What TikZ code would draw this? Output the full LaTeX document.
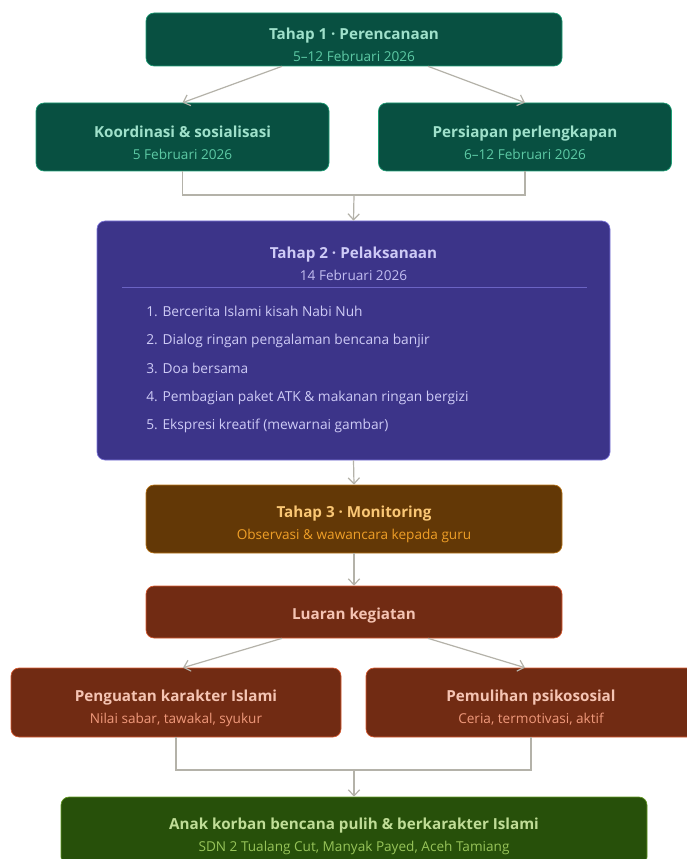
\documentclass[tikz,border=0pt]{standalone}
\usepackage{fontspec}
\setmainfont{Open Sans}
\usetikzlibrary{positioning}
\usetikzlibrary{arrows.meta,calc}

\definecolor{tealbg}{HTML}{085041}
\definecolor{tealln}{HTML}{1D9E75}
\definecolor{tealtt}{HTML}{9FE1CB}
\definecolor{tealsb}{HTML}{5DCAA5}
\definecolor{purpbg}{HTML}{3C3489}
\definecolor{purpln}{HTML}{7F77DD}
\definecolor{purptt}{HTML}{CECBF6}
\definecolor{purpsb}{HTML}{C2BDF0}
\definecolor{ambrbg}{HTML}{633806}
\definecolor{ambrln}{HTML}{BA7517}
\definecolor{ambrtt}{HTML}{FAC775}
\definecolor{ambrsb}{HTML}{EF9F27}
\definecolor{corlbg}{HTML}{712B13}
\definecolor{corlln}{HTML}{D85A30}
\definecolor{corltt}{HTML}{F5C4B3}
\definecolor{corlsb}{HTML}{F0997B}
\definecolor{grnbg}{HTML}{27500A}
\definecolor{grnln}{HTML}{639922}
\definecolor{grntt}{HTML}{C0DD97}
\definecolor{grnsb}{HTML}{97C459}
\definecolor{linegray}{HTML}{B4B2A9}

\newcommand{\judul}[4]{{\rule{0pt}{17pt}\fontsize{11.4}{14}\selectfont\bfseries\color{#1}#2}\\[4.5pt]{\fontsize{10.2}{12}\selectfont\color{#3}#4}}

\tikzset{
 box/.style={rectangle, rounded corners=6pt, inner sep=0pt, align=center, line width=0.5pt},
 tealbox/.style={box, fill=tealbg, draw=tealln},
 purpbox/.style={box, fill=purpbg, draw=purpln},
 ambrbox/.style={box, fill=ambrbg, draw=ambrln},
 corlbox/.style={box, fill=corlbg, draw=corlln},
 grnbox/.style={box, fill=grnbg, draw=grnln},
 link/.style={draw=linegray, line width=0.9pt},
 arr/.style={link, -{Straight Barb[length=4.5pt,width=8.5pt]}},
 item/.style={anchor=base west, inner sep=0pt, text=purptt, font=\fontsize{10.3}{12}\selectfont},
}

\begin{document}
\begin{tikzpicture}[x=0.75pt,y=-0.75pt]
 \fill[white] (0,0) rectangle (686,859);
 \useasboundingbox (0,0) rectangle (686,859);

 \node[tealbox, minimum width=312pt, minimum height=39.75pt] (t1) at (354,39.5)
  {\judul{tealtt}{Tahap 1 · Perencanaan}{tealsb}{5–12 Februari 2026}};
 \node[tealbox, minimum width=219.75pt, minimum height=51pt] (koord) at (182.5,137)
  {\judul{tealtt}{Koordinasi \& sosialisasi}{tealsb}{5 Februari 2026}};
 \node[tealbox, minimum width=219.75pt, minimum height=51pt] (siap) at (525,137)
  {\judul{tealtt}{Persiapan perlengkapan}{tealsb}{6–12 Februari 2026}};

 \node[purpbox, minimum width=384.75pt, minimum height=179.25pt] (t2) at (353.5,340.5) {};
 \node[inner sep=0pt, text=purptt, font=\fontsize{11.4}{14}\selectfont\bfseries] (t2judul) at (353.5,255) {Tahap 2 · Pelaksanaan};
 \node[inner sep=0pt, text=purpsb, font=\fontsize{10.2}{12}\selectfont] (t2tgl) at (353.5,275) {14 Februari 2026};
 \draw[purpln!70!purpbg, line width=0.5pt] (122,287) -- (587,287);
 \foreach \teks [count=\i] in {Bercerita Islami kisah Nabi Nuh, Dialog ringan pengalaman bencana banjir, Doa bersama, Pembagian paket ATK \& makanan ringan bergizi, Ekspresi kreatif (mewarnai gambar)}
  \node[item] (it\i) at (146,{316.5+28.3*(\i-1)}) {\i. \teks};

 \node[ambrbox, minimum width=312pt, minimum height=51pt] (t3) at (354,519)
  {\judul{ambrtt}{Tahap 3 · Monitoring}{ambrsb}{Observasi \& wawancara kepada guru}};
 \node[corlbox, minimum width=312pt, minimum height=39pt, text=corltt, font=\fontsize{11.4}{14}\selectfont\bfseries] (luaran) at (354,612) {\rule{0pt}{14pt}Luaran kegiatan};
 \node[corlbox, minimum width=247.5pt, minimum height=51.75pt] (kuat) at (176,702.5)
  {\judul{corltt}{Penguatan karakter Islami}{corlsb}{Nilai sabar, tawakal, syukur}};
 \node[corlbox, minimum width=247.5pt, minimum height=51.75pt] (pulih) at (531,702.5)
  {\judul{corltt}{Pemulihan psikososial}{corlsb}{Ceria, termotivasi, aktif}};
 \node[grnbox, minimum width=439.5pt, minimum height=51pt] (hasil) at (354,831)
  {\judul{grntt}{Anak korban bencana pulih \& berkarakter Islami}{grnsb}{SDN 2 Tualang Cut, Manyak Payed, Aceh Tamiang}};

 \coordinate (j1) at (354,195);
 \coordinate (j2) at (354,770);
 \draw[arr] ($(t1.south)+(-72,0)$) -- (koord.north);
 \draw[arr] ($(t1.south)+(74,0)$) -- (siap.north);
 \draw[link] (koord.south) |- (j1) -| (siap.south);
 \draw[arr] (j1) -- (t2.north);
 \draw[arr] (t2.south) -- (t3.north);
 \draw[arr] (t3.south) -- (luaran.north);
 \draw[arr] ($(luaran.south)+(-72,0)$) -- ($(kuat.north)+(7,0)$);
 \draw[arr] ($(luaran.south)+(74,0)$) -- ($(pulih.north)+(-6,0)$);
 \draw[link] (kuat.south) |- (j2) -| (pulih.south);
 \draw[arr] (j2) -- (hasil.north);
\end{tikzpicture}
\end{document}
